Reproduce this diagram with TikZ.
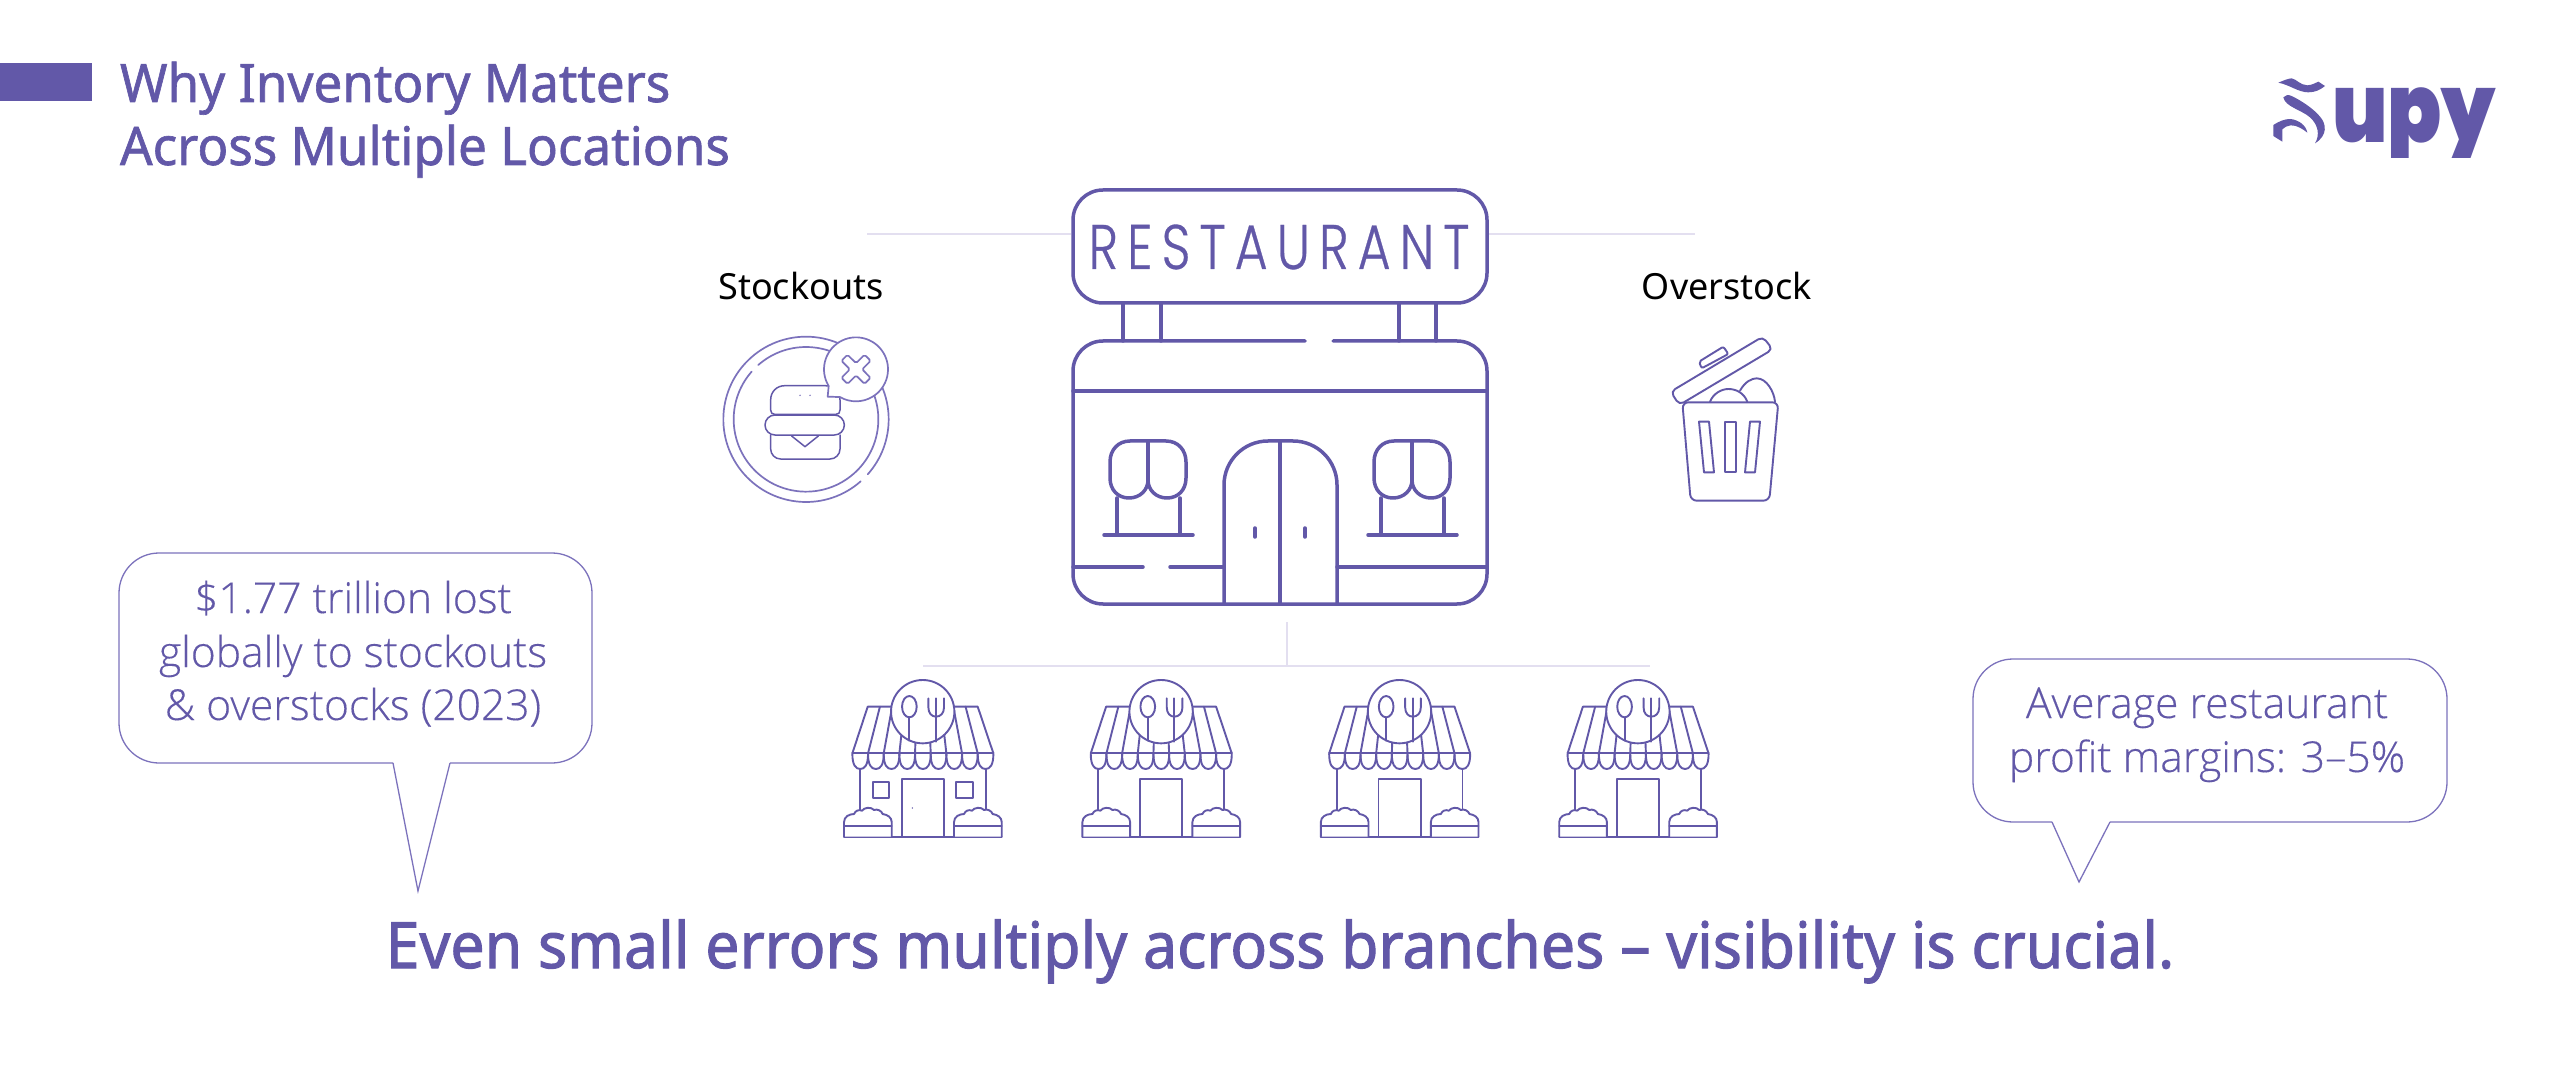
\documentclass[tikz,border=0pt]{standalone}
\usepackage{fontspec}
\setmainfont{Noto Sans}
\IfFontExistsTF{Open Sans Light}{\newfontfamily\lightf[FakeBold=0.25]{Open Sans Light}}{\newfontfamily\lightf{Noto Sans}}
\newfontfamily\medf[FakeBold=1.2]{Noto Sans}
\newfontfamily\semif[FakeBold=1.6]{Noto Sans}
\IfFontExistsTF{Poppins Light}{\newfontfamily\signf[LetterSpace=18,FakeBold=0.5]{Poppins Light}}{\newfontfamily\signf[LetterSpace=18]{Poppins}}
\IfFontExistsTF{Poppins Black}{\newfontfamily\logof{Poppins Black}}{\newfontfamily\logof[FakeBold=2]{Poppins}}
\definecolor{pur}{HTML}{6258A8}
\definecolor{purl}{HTML}{7C72BC}
\definecolor{hair}{HTML}{E3DFF0}
\tikzset{
  txt/.style={inner sep=0pt,outer sep=0pt,anchor=base,text=pur},
  big/.style={draw=pur,line width=1.75pt,line cap=round,line join=round},
  ico/.style={draw=pur,line width=0.95pt,line cap=round,line join=round},
  icot/.style={draw=purl,line width=0.85pt,line cap=round,line join=round},
  bub/.style={draw=purl,line width=0.65pt,line join=miter},
  hl/.style={draw=hair,line width=0.7pt},
  zoomed/.style={x=0.16667pt,y=-0.16667pt}
}
\newcommand{\shopicon}[1]{%
  \begin{scope}[shift={(#1-92.67,620)},zoomed]
    \draw[ico] (67,400)--(113,260)--(443,260)--(490,400);
    \foreach \i in {1,...,8}{\draw[ico] ({67+47*\i},400)--({113+36.7*\i},260);}
    \draw[ico] (67,400)--(490,400);
    \foreach \i in {0,...,8}{
      \draw[ico] ({67+47*\i},402) .. controls ({67+47*\i},435) and ({77+47*\i},447) .. ({90.5+47*\i},447)
        .. controls ({104+47*\i},447) and ({114+47*\i},435) .. ({114+47*\i},402);}
    \draw[ico,fill=white] (278,275) circle (95);
    \draw[ico] (238,260) ellipse (22 and 32);
    \draw[ico] (238,292)--(238,362);
    \draw[ico] (295,235)--(295,262) .. controls (295,280) and (305,290) .. (318,290) .. controls (331,290) and (342,280) .. (342,262)--(342,235);
    \draw[ico] (318,235)--(318,365);
    \draw[ico] (90,447)--(90,575);
    \draw[ico] (467,447)--(467,575);
    \draw[ico] (42,650)--(515,650);
    \draw[ico] (215,650)--(215,478)--(342,478)--(342,650);
    \foreach \d in {0,330}{
      \begin{scope}[shift={(\d,0)}]
        \draw[ico,fill=white] (42,650)--(42,606) .. controls (42,590) and (58,582) .. (72,582)
          .. controls (76,572) and (86,568) .. (96,572) .. controls (102,562) and (124,560) .. (132,570)
          .. controls (142,566) and (154,572) .. (158,582) .. controls (172,584) and (185,592) .. (185,606)--(185,650);
        \draw[ico] (42,618)--(185,618);
      \end{scope}}
  \end{scope}}
\begin{document}
\begin{tikzpicture}[x=0.5pt,y=-0.5pt]
\useasboundingbox[fill=white] (0,0) rectangle (2560,1069);

% header
\fill[pur] (0,63) rectangle (92,101);
\node[txt,anchor=base west,xscale=0.965,font={\medf\fontsize{26.5}{30}\selectfont}] (title1) at (120,102) {Why Inventory Matters};
\node[txt,anchor=base west,xscale=0.965,font={\medf\fontsize{26.5}{30}\selectfont}] (title2) at (120,165) {Across Multiple Locations};

% logo
\begin{scope}[shift={(2250,60)},zoomed]
  \fill[pur] (85,68) .. controls (100,62) and (112,56) .. (125,55) .. controls (140,58) and (150,75) .. (172,76) .. controls (185,75) and (195,70) .. (205,65) -- (225,78) .. controls (210,90) and (195,97) .. (175,97) .. controls (145,97) and (120,75) .. (85,68) -- cycle;
  \fill[pur] (100,112) .. controls (105,105) and (115,103) .. (125,108) .. controls (150,120) and (190,145) .. (210,170) .. controls (228,190) and (235,225) .. (195,250) .. controls (210,225) and (205,195) .. (180,172) .. controls (155,150) and (105,140) .. (100,112) -- cycle;
  \fill[pur] (70,195) .. controls (85,185) and (105,176) .. (122,177) .. controls (145,180) and (168,195) .. (172,218) .. controls (160,208) and (140,195) .. (122,196) .. controls (112,197) and (102,202) .. (97,208) -- (97,245) -- (70,228) -- cycle;
\end{scope}
\begin{scope}
  \clip (2320,70) rectangle (2510,158);
  \node[txt,anchor=base west,inner sep=0pt,xscale=0.83,font={\logof\fontsize{48}{52}\selectfont}] (logotext) at (2332,143) {upy};
\end{scope}

% hairlines
\draw[hl] (867,234)--(1071,234);
\draw[hl] (1489,234)--(1695,234);
\draw[hl] (1287,622)--(1287,666);
\draw[hl] (923,666)--(1650,666);

% restaurant
\draw[big,rounded corners=15pt] (1073,190) rectangle (1487,303);
\node[txt,xscale=0.8,font={\signf\fontsize{31.5}{35}\selectfont}] (sign) at (1279,269) {RESTAURANT};
\draw[big] (1123,303)--(1123,341) (1161,303)--(1161,341) (1399,303)--(1399,341) (1436,303)--(1436,341);
\draw[big,rounded corners=15pt] (1305,341)--(1073,341)--(1073,604)--(1487,604)--(1487,341)--(1333,341);
\draw[big] (1073,391)--(1487,391);
\draw[big] (1073,567)--(1143,567) (1170,567)--(1224,567) (1337,567)--(1487,567);
\draw[big,rounded corners=22pt] (1224,604)--(1224,441)--(1337,441)--(1337,604);
\draw[big] (1280,441)--(1280,604);
\draw[big] (1255,528)--(1255,537) (1305,528)--(1305,537);
\foreach \d in {0,264}{
  \begin{scope}[shift={(\d,0)}]
    \draw[big] (1110,478)--(1110,462) .. controls (1110,450) and (1118,441) .. (1130,441)--(1166,441) .. controls (1178,441) and (1186,450) .. (1186,462)--(1186,478)
      .. controls (1186,490) and (1178,498) .. (1167,498) .. controls (1156,498) and (1148,490) .. (1148,480)
      .. controls (1148,490) and (1140,498) .. (1129,498) .. controls (1118,498) and (1110,490) .. (1110,478);
    \draw[big] (1148,441)--(1148,480);
    \draw[big] (1117,498)--(1117,535) (1180,498)--(1180,535);
    \draw[big] (1104,535)--(1193,535);
  \end{scope}}

% stockouts
\node[txt,text=black,font={\fontsize{18}{22}\selectfont}] (stockouts) at (801,300) {Stockouts};
\begin{scope}[shift={(680,250)},zoomed]
  \draw[icot] (378,508) ++(48.6:248) arc[start angle=48.6,end angle=401.7,radius=248];
  \draw[icot] (378,508) ++(228.7:217) arc[start angle=228.7,end angle=581.3,radius=217];
  \draw[ico,line width=0.75pt] (272,480)--(272,450) .. controls (272,425) and (290,407) .. (315,407)--(435,407) .. controls (460,407) and (480,425) .. (480,450)--(480,480) .. controls (480,488) and (476,493) .. (468,493)--(284,493) .. controls (276,493) and (272,488) .. (272,480)--cycle;
  \draw[ico,line width=0.75pt,rounded corners=5pt] (255,495) rectangle (493,555);
  \draw[ico,line width=0.75pt,rounded corners=5pt] (272,555)--(272,627)--(480,627)--(480,555);
  \draw[ico,line width=0.75pt] (335,558)--(375,590)--(415,558);
  \fill[purl] (360,436) circle (2.5) (390,436) circle (2.5);
  \draw[icot,fill=white] (528,358) ++(148.6:96) arc[start angle=148.6,end angle=480,radius=96]--(443,440)--cycle;
  \begin{scope}[shift={(528,358)}]
    \draw[icot,rounded corners=0.8pt] (44,-25.5)--(18.4,0)--(43.8,25.5)--(25.5,43.8)--(0,18.4)--(-25.5,43.8)--(-43.8,25.5)--(-18.4,0)--(-43.8,-25.5)--(-25.5,-43.8)--(0,-18.4)--(25.5,-43.8)--cycle;
  \end{scope}
\end{scope}

% overstock
\node[txt,text=black,font={\fontsize{18}{22}\selectfont}] (overstock) at (1727,300) {Overstock};
\begin{scope}[shift={(1630,250)},zoomed]
  \draw[ico] (240,455) .. controls (250,430) and (275,417) .. (295,417) .. controls (320,417) and (342,430) .. (352,455);
  \draw[ico] (330,422) .. controls (345,395) and (365,385) .. (380,385) .. controls (410,385) and (432,425) .. (435,455);
  \draw[ico,rounded corners=3pt] (157,457)--(445,457)--(418,752)--(182,752)--cycle;
  \draw[ico,rounded corners=2.5pt] (122,425)--(148,465)--(428,298)--(398,260)--cycle;
  \draw[ico,rounded corners=1pt] (207,335)--(280,290)--(295,312)--(215,355)--cycle;
  \draw[ico] (207,515)--(237,515)--(252,667)--(222,667)--cycle;
  \draw[ico] (285,515)--(317,515)--(317,667)--(285,667)--cycle;
  \draw[ico] (360,515)--(390,515)--(375,667)--(345,667)--cycle;
\end{scope}

% branch shops
\shopicon{922.7}
\shopicon{1161.1}
\shopicon{1399.5}
\shopicon{1637.9}
\begin{scope}[shift={(830,620)},zoomed]
  \draw[ico] (130,485) rectangle (178,533);
  \draw[ico] (378,485) rectangle (428,533);
  \fill[pur] (247,564) circle (2.5);
\end{scope}

% callouts
\draw[bub,rounded corners=20pt] (393,763)--(119,763)--(119,553)--(592,553)--(592,763)--(450,763);
\draw[bub] (393,763)--(418,891)--(450,763);
\draw[bub,rounded corners=20pt] (2052,822)--(1973,822)--(1973,659)--(2447,659)--(2447,822)--(2110,822);
\draw[bub] (2052,822)--(2079,882)--(2110,822);
\node[txt,font={\lightf\fontsize{21.3}{26}\selectfont}] (a1) at (353,613) {\$1.77 trillion lost};
\node[txt,font={\lightf\fontsize{21.3}{26}\selectfont}] (a2) at (353,667) {globally to stockouts};
\node[txt,font={\lightf\fontsize{21.3}{26}\selectfont}] (a3) at (353,720) {\& overstocks (2023)};
\node[txt,font={\lightf\fontsize{21.3}{26}\selectfont}] (b1) at (2207,718) {Average restaurant};
\node[txt,font={\lightf\fontsize{21.3}{26}\selectfont}] (b2) at (2207,772) {profit margins: 3–5\%};

% conclusion
\node[txt,xscale=0.95,font={\semif\fontsize{32}{36}\selectfont}] (concl) at (1280,968) {Even small errors multiply across branches – visibility is crucial.};
\end{tikzpicture}
\end{document}
